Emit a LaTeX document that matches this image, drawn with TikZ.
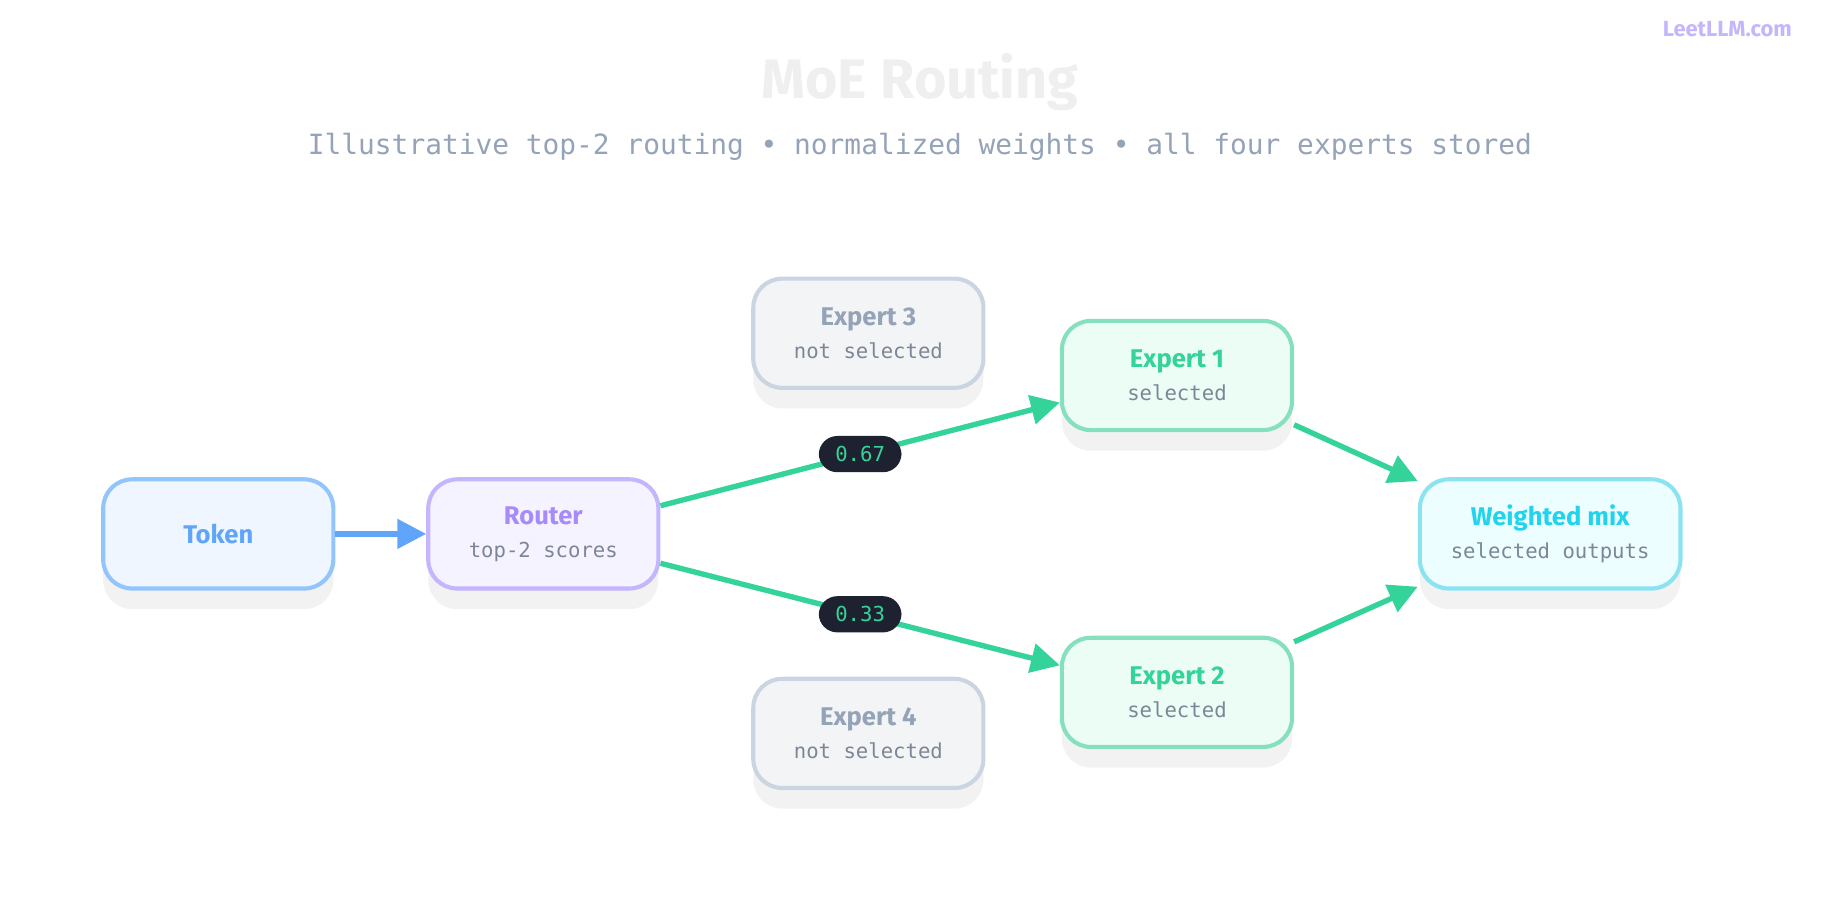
\documentclass[tikz,border=0pt]{standalone}
\usepackage{fontspec}
\setmainfont{Fira Sans}
\newfontfamily\monofont{DejaVu Sans Mono}
\usetikzlibrary{arrows.meta,shadows}

\definecolor{blueln}{HTML}{93C5FD}
\definecolor{bluefg}{HTML}{60A5FA}
\definecolor{bluebg}{HTML}{EFF6FF}
\definecolor{purpln}{HTML}{C4B5FD}
\definecolor{purpfg}{HTML}{A78BFA}
\definecolor{purpbg}{HTML}{F5F3FF}
\definecolor{grayln}{HTML}{CBD5E1}
\definecolor{grayfg}{HTML}{94A3B8}
\definecolor{graybg}{HTML}{F3F4F6}
\definecolor{greenln}{HTML}{86E0BE}
\definecolor{greenfg}{HTML}{34D399}
\definecolor{greenbg}{HTML}{ECFDF5}
\definecolor{cyanln}{HTML}{8BE3F2}
\definecolor{cyanfg}{HTML}{22D3EE}
\definecolor{cyanbg}{HTML}{ECFEFF}
\definecolor{subfg}{HTML}{7C8696}
\definecolor{pill}{HTML}{1E2230}

\tikzset{
  box/.style={rounded corners=7pt, line width=1pt, minimum width=1.96cm,
    minimum height=0.93cm, align=center,
    drop shadow={shadow xshift=0pt, shadow yshift=-5pt, opacity=0.05, fill=black}},
  flow/.style={line width=1.3pt, draw=greenfg, -{Triangle[length=7pt,width=7pt]}},
  weight/.style={fill=pill, text=greenfg, rounded corners=4.5pt, inner xsep=4pt,
    inner ysep=2.5pt, font=\monofont\fontsize{5}{6}\selectfont},
}

\begin{document}
\begin{tikzpicture}[x=0.01cm, y=-0.01cm]

\path [use as bounding box] (0,0) rectangle (1568,768);

% HEADER
\node (title) at (784,70) {\textcolor{blue!4!gray!12}{\bfseries\fontsize{13.5}{16}\selectfont MoE Routing}};
\node (subtitle) at (784,125) {\monofont\fontsize{6.75}{9}\selectfont\textcolor{grayfg}{Illustrative top-2 routing • normalized weights • all four experts stored}};
\node (logo) at (1472,25) {\bfseries\fontsize{5.3}{7}\selectfont\textcolor{purpln}{LeetLLM.com}};

% NODES
\node [box, draw=blueln, fill=bluebg] (token) at (186,455) {\textcolor{bluefg}{\bfseries\fontsize{6.2}{8}\selectfont Token}};
\node [box, draw=purpln, fill=purpbg] (router) at (463,455)
  {\textcolor{purpfg}{\bfseries\fontsize{6.2}{8}\selectfont Router}\\[-4pt]{\monofont\fontsize{5}{7}\selectfont\textcolor{subfg}{top-2 scores}}};
\node [box, draw=grayln, fill=graybg] (exp3) at (740,284)
  {\textcolor{grayfg}{\bfseries\fontsize{6.2}{8}\selectfont Expert 3}\\[-4pt]{\monofont\fontsize{5}{7}\selectfont\textcolor{subfg}{not selected}}};
\node [box, draw=grayln, fill=graybg] (exp4) at (740,625)
  {\textcolor{grayfg}{\bfseries\fontsize{6.2}{8}\selectfont Expert 4}\\[-4pt]{\monofont\fontsize{5}{7}\selectfont\textcolor{subfg}{not selected}}};
\node [box, draw=greenln, fill=greenbg] (exp1) at (1003,320)
  {\textcolor{greenfg}{\bfseries\fontsize{6.2}{8}\selectfont Expert 1}\\[-4pt]{\monofont\fontsize{5}{7}\selectfont\textcolor{subfg}{selected}}};
\node [box, draw=greenln, fill=greenbg] (exp2) at (1003,590)
  {\textcolor{greenfg}{\bfseries\fontsize{6.2}{8}\selectfont Expert 2}\\[-4pt]{\monofont\fontsize{5}{7}\selectfont\textcolor{subfg}{selected}}};
\node [box, draw=cyanln, fill=cyanbg, minimum width=2.22cm] (mix) at (1321,455)
  {\textcolor{cyanfg}{\bfseries\fontsize{6.2}{8}\selectfont Weighted mix}\\[-4pt]{\monofont\fontsize{5}{7}\selectfont\textcolor{subfg}{selected outputs}}};

% EDGES
\draw [line width=1.3pt, draw=bluefg, -{Triangle[length=7pt,width=7pt]}] (token) -- (router);
\draw [flow] (router.east |- 0,431) -- node (w1) [weight, pos=0.5] {0.67} (exp1.west |- 0,343);
\draw [flow] (router.east |- 0,480) -- node (w2) [weight, pos=0.5] {0.33} (exp2.west |- 0,567);
\draw [flow] (exp1.east |- 0,362) -- (mix.west |- 0,410);
\draw [flow] (exp2.east |- 0,547) -- (mix.west |- 0,500);

\end{tikzpicture}
\end{document}
